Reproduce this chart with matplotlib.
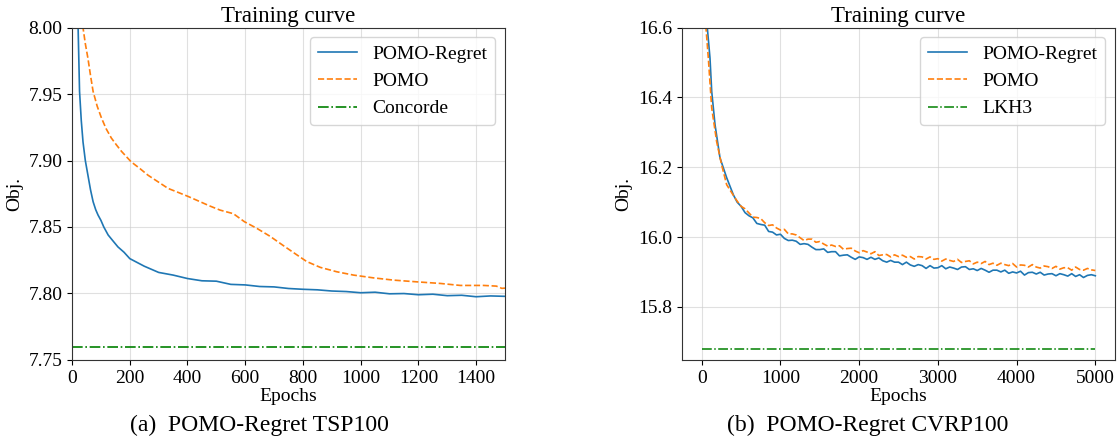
import matplotlib
matplotlib.use("Agg")
import matplotlib.pyplot as plt

plt.rcParams['font.family'] = ['Liberation Serif', 'DejaVu Serif']

# --- TSP100 (left) ---
tsp_regret_ep = [0, 10, 21, 26, 32, 38, 46, 55, 64, 73, 82, 90, 100, 110, 125, 140, 159, 180,
                 200, 250, 300, 350, 400, 450, 500, 550, 600, 650, 700, 750, 800, 850, 900, 950,
                 1000, 1050, 1100, 1150, 1200, 1250, 1300, 1350, 1400, 1450, 1500]
tsp_regret = [8.45, 8.12, 8.00, 7.952, 7.930, 7.914, 7.900, 7.889, 7.878, 7.869, 7.863, 7.859,
              7.855, 7.850, 7.844, 7.840, 7.835, 7.831,
              7.8262, 7.8205, 7.8158, 7.8138, 7.8112, 7.8095, 7.8092, 7.8068, 7.8064, 7.8052,
              7.8049, 7.8037, 7.8031, 7.8027, 7.8018, 7.8014, 7.8005, 7.8009, 7.7997, 7.7999,
              7.7990, 7.7994, 7.7983, 7.7986, 7.7975, 7.7981, 7.7978]

tsp_pomo_ep = [0, 20, 38, 46, 55, 64, 73, 87, 102, 118, 136, 153, 171, 188, 205, 235, 263, 298,
               333, 368, 402, 444, 475, 513, 559, 597, 640, 686, 732, 779, 813, 860, 917, 975,
               1044, 1114, 1195, 1276, 1345, 1426, 1470, 1489, 1500]
tsp_pomo = [8.25, 8.08, 8.00, 7.988, 7.977, 7.964, 7.952, 7.941, 7.932, 7.924, 7.917, 7.912,
            7.907, 7.903, 7.899, 7.894, 7.889, 7.884, 7.879, 7.876, 7.873, 7.869, 7.866,
            7.8627, 7.860, 7.854, 7.849, 7.843, 7.836, 7.829, 7.824, 7.8196, 7.8163, 7.8138,
            7.8117, 7.810, 7.8087, 7.8075, 7.806, 7.806, 7.8055, 7.8038, 7.804]

concorde = 7.76

# --- CVRP100 (right) ---
cvrp_regret_ep = [0, 40, 71, 105, 127, 169, 232, 317, 402, 450] + list(range(500, 5001, 50))
cvrp_regret = [17.4, 16.85, 16.6, 16.513, 16.417, 16.322, 16.227, 16.170, 16.121, 16.100,
               16.088, 16.070, 16.061, 16.055, 16.039, 16.036, 16.034, 16.016, 16.014, 16.006,
               16.008, 15.996, 15.990, 15.991, 15.988, 15.979, 15.981, 15.979, 15.971, 15.964,
               15.964, 15.966, 15.956, 15.958, 15.958, 15.946, 15.948, 15.949, 15.942, 15.936,
               15.943, 15.941, 15.936, 15.942, 15.936, 15.940, 15.932, 15.928, 15.933, 15.928,
               15.928, 15.921, 15.928, 15.920, 15.916, 15.921, 15.918, 15.910, 15.918, 15.911,
               15.912, 15.918, 15.909, 15.914, 15.911, 15.907, 15.914, 15.915, 15.907, 15.909,
               15.904, 15.910, 15.905, 15.899, 15.905, 15.905, 15.900, 15.905, 15.896, 15.900,
               15.897, 15.902, 15.891, 15.898, 15.899, 15.894, 15.899, 15.891, 15.894, 15.895,
               15.889, 15.895, 15.892, 15.888, 15.895, 15.887, 15.892, 15.884, 15.890, 15.892,
               15.889]

cvrp_pomo_ep = [0, 30, 54, 84, 127, 190, 254, 317, 423, 460] + list(range(500, 5001, 50))
cvrp_pomo = [17.3, 16.9, 16.6, 16.513, 16.370, 16.273, 16.206, 16.150, 16.112, 16.100,
             16.088, 16.081, 16.069, 16.057, 16.056, 16.053, 16.041, 16.033, 16.035, 16.026,
             16.020, 16.022, 16.009, 16.009, 16.006, 15.998, 15.990, 15.994, 15.994, 15.985,
             15.987, 15.980, 15.974, 15.977, 15.973, 15.975, 15.965, 15.967, 15.968, 15.960,
             15.955, 15.961, 15.957, 15.952, 15.958, 15.947, 15.949, 15.950, 15.943, 15.949,
             15.944, 15.948, 15.942, 15.944, 15.937, 15.944, 15.943, 15.937, 15.943, 15.936,
             15.938, 15.931, 15.937, 15.933, 15.930, 15.936, 15.927, 15.930, 15.932, 15.923,
             15.928, 15.924, 15.930, 15.921, 15.925, 15.919, 15.925, 15.921, 15.918, 15.924,
             15.914, 15.920, 15.919, 15.914, 15.921, 15.914, 15.911, 15.917, 15.915, 15.910,
             15.916, 15.908, 15.912, 15.912, 15.905, 15.914, 15.907, 15.905, 15.910, 15.906,
             15.904]

lkh3 = 15.68

fig = plt.figure(figsize=(11.17, 4.47), dpi=100)
ax1 = fig.add_axes([0.0645, 0.195, 0.3876, 0.743])
ax2 = fig.add_axes([0.6106, 0.195, 0.3876, 0.743])


def style(ax):
    ax.grid(True, color='#cccccc', linewidth=0.8, alpha=0.6)
    ax.set_axisbelow(True)
    ax.tick_params(labelsize=14)
    ax.set_title("Training curve", fontsize=16.5, pad=4)
    ax.set_xlabel("Epochs", fontsize=14, labelpad=1)
    ax.set_ylabel("Obj.", fontsize=14)
    for s in ax.spines.values():
        s.set_color('#333333')


ax1.plot(tsp_regret_ep, tsp_regret, color='#1f77b4', lw=1.2, label='POMO-Regret')
ax1.plot(tsp_pomo_ep, tsp_pomo, color='#ff7f0e', lw=1.2, ls='--', label='POMO')
ax1.plot([0, tsp_regret_ep[-1]], [concorde, concorde], color='green', lw=1.2, ls='-.', label='Concorde')
ax1.set_xlim(0, 1500)
ax1.set_ylim(7.75, 8.00)
ax1.set_xticks(range(0, 1401, 200))
ax1.set_yticks([7.75, 7.80, 7.85, 7.90, 7.95, 8.00])
ax1.set_yticklabels(["%.2f" % v for v in [7.75, 7.80, 7.85, 7.90, 7.95, 8.00]])
style(ax1)
ax1.legend(loc='upper right', fontsize=14)

ax2.plot(cvrp_regret_ep, cvrp_regret, color='#1f77b4', lw=1.2, label='POMO-Regret')
ax2.plot(cvrp_pomo_ep, cvrp_pomo, color='#ff7f0e', lw=1.2, ls='--', label='POMO')
ax2.plot([0, cvrp_regret_ep[-1]], [lkh3, lkh3], color='green', lw=1.1, ls='-.', label='LKH3')
ax2.set_xlim(-250, 5250)
ax2.set_ylim(15.648, 16.6)
ax2.set_xticks(range(0, 5001, 1000))
ax2.set_yticks([15.8, 16.0, 16.2, 16.4, 16.6])
ax2.set_yticklabels(["%.1f" % v for v in [15.8, 16.0, 16.2, 16.4, 16.6]])
style(ax2)
ax2.legend(loc='upper right', fontsize=14)

fig.text(0.232, 0.048, "(a)  POMO-Regret TSP100", ha='center', va='center', fontsize=17)
fig.text(0.777, 0.048, "(b)  POMO-Regret CVRP100", ha='center', va='center', fontsize=17)

fig.savefig("out.png", dpi=100)
